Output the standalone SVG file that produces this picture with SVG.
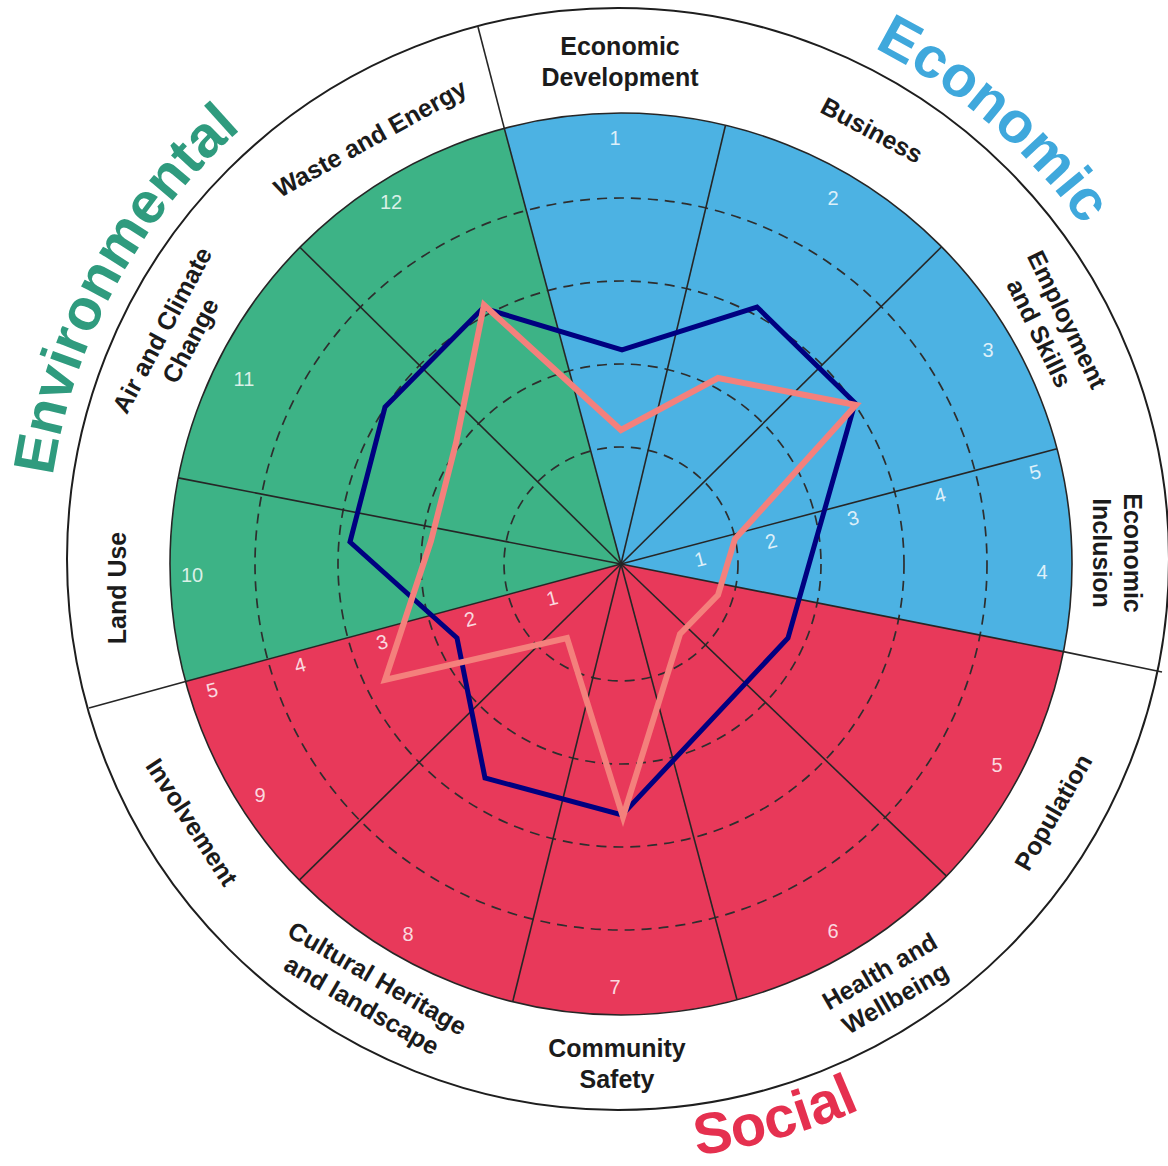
<svg xmlns="http://www.w3.org/2000/svg" width="1168" height="1166" viewBox="0 0 1168 1166">
<defs>
<style>
.ring{font-family:"Liberation Sans",Arial,sans-serif;font-weight:bold;font-size:25px;fill:#1b1b1b;text-anchor:middle}
.num{font-family:"Liberation Sans",Arial,sans-serif;font-size:20px;fill:#ffffff;fill-opacity:0.82;text-anchor:middle}
.big{font-family:"Liberation Sans",Arial,sans-serif;font-weight:bold;font-size:58px;text-anchor:middle}
.spoke{stroke:#262626;stroke-width:1.6;fill:none}
.dash{fill:none;stroke:#2e2e2e;stroke-width:1.7;stroke-dasharray:10 7}
.series{fill:none;stroke-linejoin:miter}
</style>
<path id="arcTop" d="M81.4,753.3 A571,571 0 1 1 1154.6,753.3"/>
<path id="arcBot" d="M25.1,662.5 A602,602 0 0 0 1210.9,662.5"/>
</defs>
<rect x="0" y="0" width="1168" height="1166" fill="#ffffff"/>

<g id="outer-ring">
<circle cx="618" cy="559" r="551" fill="#ffffff" stroke="#1e1e1e" stroke-width="2"/>
<line class="spoke" x1="504.3" y1="128.4" x2="478" y2="27"/>
<line class="spoke" x1="1063.4" y1="651.6" x2="1162" y2="672"/>
<line class="spoke" x1="185.6" y1="681.5" x2="89" y2="708"/>
</g>

<g id="sectors">
<path id="economic-sectors" d="M621,564 L504.3,128.4 A451,451 0 0 1 1063.4,651.6 Z" fill="#4cb2e3"/>
<path id="social-sectors" d="M621,564 L1063.4,651.6 A451,451 0 0 1 185.6,681.5 Z" fill="#e8395a"/>
<path id="environmental-sectors" d="M621,564 L185.6,681.5 A451,451 0 0 1 504.3,128.4 Z" fill="#3db386"/>
<circle cx="621" cy="564" r="451" fill="none" stroke="#262626" stroke-width="1.6"/>
</g>

<g id="grid">
<circle class="dash" cx="621" cy="564" r="117"/>
<circle class="dash" cx="621" cy="564" r="200"/>
<circle class="dash" cx="621" cy="564" r="283"/>
<circle class="dash" cx="621" cy="564" r="366"/>
<g id="spokes">
<line class="spoke" x1="621" y1="564" x2="504.3" y2="128.4"/>
<line class="spoke" x1="621" y1="564" x2="725.5" y2="125.3"/>
<line class="spoke" x1="621" y1="564" x2="941.6" y2="246.8"/>
<line class="spoke" x1="621" y1="564" x2="1057" y2="448.8"/>
<line class="spoke" x1="621" y1="564" x2="1063.4" y2="651.6"/>
<line class="spoke" x1="621" y1="564" x2="946.5" y2="876.1"/>
<line class="spoke" x1="621" y1="564" x2="737" y2="999.8"/>
<line class="spoke" x1="621" y1="564" x2="512.7" y2="1001.8"/>
<line class="spoke" x1="621" y1="564" x2="299.3" y2="880.1"/>
<line class="spoke" x1="621" y1="564" x2="185.6" y2="681.5"/>
<line class="spoke" x1="621" y1="564" x2="178.3" y2="477.9"/>
<line class="spoke" x1="621" y1="564" x2="299.9" y2="247.3"/>
</g>
</g>

<g id="sector-numbers" class="num">
<text x="615" y="145">1</text>
<text x="833" y="205">2</text>
<text x="988" y="357">3</text>
<text x="1042" y="579">4</text>
<text x="997" y="772">5</text>
<text x="833" y="938">6</text>
<text x="615" y="994">7</text>
<text x="408" y="941">8</text>
<text x="260" y="802">9</text>
<text x="192" y="582">10</text>
<text x="244" y="386">11</text>
<text x="391" y="209">12</text>
</g>

<g id="scale-numbers" class="num">
<text transform="translate(700,559) rotate(-15)" y="7">1</text>
<text transform="translate(771,541) rotate(-15)" y="7">2</text>
<text transform="translate(853,518) rotate(-15)" y="7">3</text>
<text transform="translate(940,495) rotate(-15)" y="7">4</text>
<text transform="translate(1035,472) rotate(-15)" y="7">5</text>
<text transform="translate(552,598) rotate(-15)" y="7">1</text>
<text transform="translate(470,619) rotate(-15)" y="7">2</text>
<text transform="translate(382,642) rotate(-15)" y="7">3</text>
<text transform="translate(300,665) rotate(-15)" y="7">4</text>
<text transform="translate(212,690) rotate(-15)" y="7">5</text>
</g>

<g id="series">
<polygon id="series-navy" class="series" stroke="#000080" stroke-width="5" points="483,308 622,350 757,307 855,403 788,638 622,815 485,778 457,638 350,542 385,407"/>
<polygon id="series-pink" class="series" stroke="#f4807c" stroke-width="6" points="484,305 621,430 718,378 856,405 735,539 718,595 680,634 623,817 567,638 385,680 431,541 456,443"/>
</g>

<g id="ring-labels" class="ring">
<text id="lbl-economic-development" transform="translate(620,61)"><tspan x="0" y="-6">Economic</tspan><tspan x="0" y="25">Development</tspan></text>
<text id="lbl-business" transform="translate(872,130) rotate(28)" y="9">Business</text>
<text id="lbl-employment" transform="translate(1054,326) rotate(64)"><tspan x="0" y="-6">Employment</tspan><tspan x="0" y="25">and Skills</tspan></text>
<text id="lbl-inclusion" transform="translate(1118,553) rotate(90)"><tspan x="0" y="-6">Economic</tspan><tspan x="0" y="25">Inclusion</tspan></text>
<text id="lbl-population" transform="translate(1053,812) rotate(-60)" y="9">Population</text>
<text id="lbl-health" transform="translate(887,984) rotate(-30)"><tspan x="0" y="-6">Health and</tspan><tspan x="0" y="25">Wellbeing</tspan></text>
<text id="lbl-safety" transform="translate(617,1063)"><tspan x="0" y="-6">Community</tspan><tspan x="0" y="25">Safety</tspan></text>
<text id="lbl-heritage" transform="translate(370,991) rotate(30)"><tspan x="0" y="-6">Cultural Heritage</tspan><tspan x="0" y="25">and landscape</tspan></text>
<text id="lbl-involvement" transform="translate(192,822) rotate(57)" y="9">Involvement</text>
<text id="lbl-landuse" transform="translate(117,588) rotate(-90)" y="9">Land Use</text>
<g id="lbl-air">
<text transform="translate(175,337) rotate(-62)" y="-6">Air and Climate</text>
<text transform="translate(175,337) rotate(-62)" x="4" y="24">Change</text>
</g>
<text id="lbl-waste" transform="translate(370,138) rotate(-29)" y="9">Waste and Energy</text>
</g>

<g id="group-labels" class="big">
<text id="grp-environmental" fill="#2f9b7e"><textPath href="#arcTop" startOffset="483">Environmental</textPath></text>
<text id="grp-economic" fill="#3fa8dc"><textPath href="#arcTop" startOffset="1500">Economic</textPath></text>
<text id="grp-social" fill="#e5304f"><textPath href="#arcBot" startOffset="1005">Social</textPath></text>
</g>
</svg>
